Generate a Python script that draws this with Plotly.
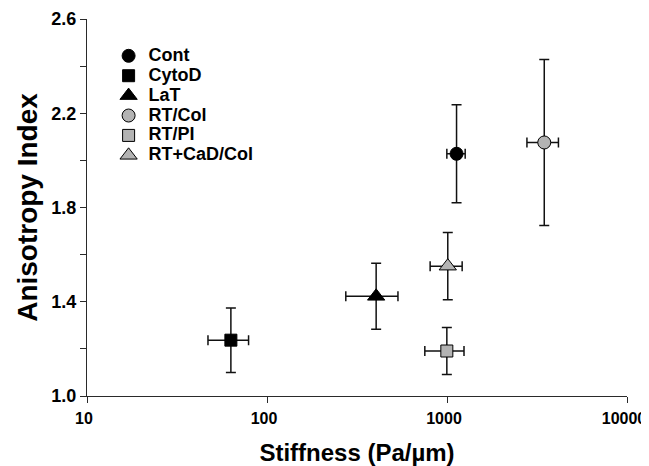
import plotly.graph_objects as go

# ---- data ----
labels = ["Cont", "CytoD", "LaT", "RT/Col", "RT/PI", "RT+CaD/Col"]
stiffness = [1130, 63, 404, 3470, 998, 1010]
stiffness_err = [132, 16, 130, 690, 245, 204]
anisotropy = [2.028, 1.237, 1.423, 2.076, 1.191, 1.551]
anisotropy_err = [0.208, 0.137, 0.14, 0.352, 0.10, 0.143]
symbols = ["circle", "square", "triangle-up", "circle", "square", "triangle-up"]
fills = ["black", "black", "black", "#b3b3b3", "#b3b3b3", "#b3b3b3"]
sizes = [13, 12, 15, 13, 12, 15]

x_ticks = [10, 100, 1000, 10000]
x_tick_text = ["10", "100", "1000", "10000"]
y_ticks = [1.0, 1.4, 1.8, 2.2, 2.6]
y_tick_text = ["1.0", "1.4", "1.8", "2.2", "2.6"]

FONT = "Liberation Sans, Arial, sans-serif"
AX = "#2a2a2a"

fig = go.Figure()
for i, name in enumerate(labels):
    fig.add_trace(go.Scatter(
        x=[stiffness[i]], y=[anisotropy[i]],
        name=f'<span style="font-size:18px"><b>{name}</b></span>', mode="markers",
        marker=dict(symbol=symbols[i], size=sizes[i], color=fills[i],
                    line=dict(color="black", width=1)),
        error_x=dict(type="data", array=[stiffness_err[i]], color="#111", thickness=1.5, width=5),
        error_y=dict(type="data", array=[anisotropy_err[i]], color="#111", thickness=1.5, width=5),
    ))

# page body has an 8px default margin; figure is sized so that it fills the window
fig.update_layout(
    width=641, height=458,
    margin=dict(l=79, r=22, t=11, b=70, autoexpand=False),
    paper_bgcolor="white", plot_bgcolor="white",
    font=dict(family=FONT, color="black", size=18),
    showlegend=True,
    legend=dict(x=0.04, y=0.942, xanchor="left", yanchor="top",
                font=dict(family=FONT, size=13, color="black"),
                bgcolor="rgba(0,0,0,0)", itemsizing="trace", itemwidth=30),
    xaxis=dict(type="log", range=[1, 4], tickvals=x_ticks,
               ticktext=[f"<b>{t}</b>" for t in x_tick_text],
               automargin=False, ticklabeloverflow="allow",
               ticklabelshift=-3, ticklabelstandoff=2,
               showgrid=False, zeroline=False, showline=True, linecolor=AX, linewidth=1.2,
               ticks="outside", ticklen=6, tickcolor=AX, tickwidth=1.2,
               tickfont=dict(family=FONT, size=16, color="black"),
               title=dict(text="<b>Stiffness (Pa/µm)</b>", font=dict(family=FONT, size=24, color="black"), standoff=21)),
    yaxis=dict(range=[1.0, 2.6], tickvals=y_ticks,
               ticktext=[f"<b>{t}</b>" for t in y_tick_text],
               automargin=False, ticklabeloverflow="allow",
               showgrid=False, zeroline=False, showline=True, linecolor=AX, linewidth=1.2,
               ticks="outside", ticklen=6, tickcolor=AX, tickwidth=1.2,
               minor=dict(tickvals=[1.2, 1.6, 2.0, 2.4], ticks="outside", ticklen=6, tickcolor=AX, tickwidth=1.2, showgrid=False),
               tickfont=dict(family=FONT, size=18, color="black"),
               title=dict(text="<b>Anisotropy Index</b>", font=dict(family=FONT, size=28, color="black"), standoff=5)),
)

fig.write_html("out.html")
